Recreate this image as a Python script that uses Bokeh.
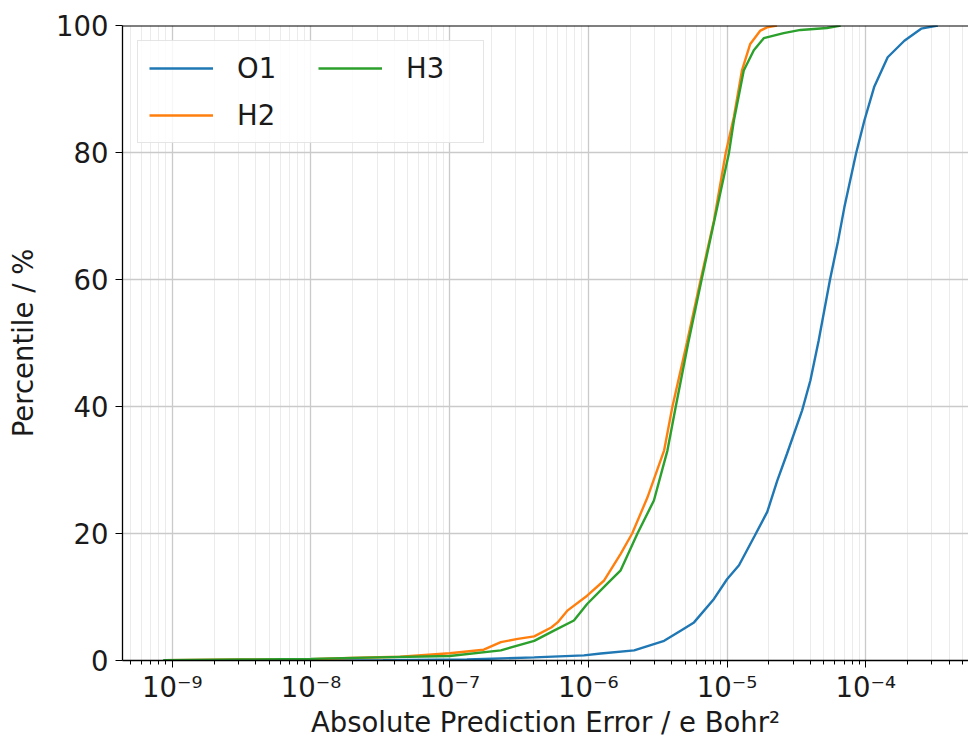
from bokeh.plotting import figure
from bokeh.models import FixedTicker, Legend, LegendItem, Span, Range1d
from bokeh.embed import file_html
from bokeh.resources import INLINE

# ---- data (absolute error, cumulative percentile) ----
O1_err = [5.0e-9, 3.3e-8, 1.33e-7, 4.07e-7, 9.3e-7, 1.23e-6, 2.14e-6, 3.52e-6,
          4.63e-6, 5.78e-6, 8.05e-6, 1.0e-5, 1.22e-5, 1.58e-5, 1.95e-5, 2.30e-5,
          2.71e-5, 3.48e-5, 3.99e-5, 4.58e-5, 5.53e-5, 6.31e-5, 7.02e-5, 8.51e-5,
          9.77e-5, 1.15e-4, 1.44e-4, 1.90e-4, 2.51e-4, 3.31e-4]
O1_pct = [0.0, 0.05, 0.15, 0.5, 0.8, 1.1, 1.6, 3.1,
          4.7, 6.0, 9.7, 12.8, 15.0, 19.6, 23.4, 28.3,
          32.6, 39.4, 44.1, 50.4, 60.0, 66.0, 71.4, 79.8,
          85.0, 90.3, 95.0, 97.6, 99.5, 100.0]

H2_err = [8.9e-10, 3.16e-9, 1.0e-8, 1.9e-8, 4.4e-8, 1.0e-7, 1.76e-7, 2.34e-7,
          3.1e-7, 4.07e-7, 5.4e-7, 6.0e-7, 7.1e-7, 9.8e-7, 1.30e-6, 1.71e-6,
          2.07e-6, 2.67e-6, 3.52e-6, 4.04e-6, 5.13e-6, 6.46e-6, 8.05e-6, 9.8e-6,
          1.12e-5, 1.28e-5, 1.47e-5, 1.74e-5, 1.94e-5, 2.29e-5]
H2_pct = [0.05, 0.15, 0.2, 0.4, 0.6, 1.15, 1.7, 2.9,
          3.4, 3.8, 5.2, 6.0, 7.9, 10.2, 12.6, 16.8,
          20.0, 25.7, 33.1, 40.0, 50.0, 60.0, 69.3, 80.0,
          85.6, 92.9, 97.1, 99.2, 99.7, 100.0]

H3_err = [8.6e-10, 3.16e-9, 1.0e-8, 2.5e-8, 1.0e-7, 2.34e-7, 4.07e-7, 5.65e-7,
          7.87e-7, 9.8e-7, 1.37e-6, 1.71e-6, 2.26e-6, 2.97e-6, 3.72e-6, 4.27e-6,
          5.25e-6, 6.56e-6, 8.05e-6, 1.03e-5, 1.12e-5, 1.32e-5, 1.56e-5, 1.84e-5,
          2.56e-5, 3.39e-5, 5.25e-5, 6.6e-5]
H3_pct = [0.05, 0.15, 0.25, 0.45, 0.7, 1.6, 3.1, 4.7,
          6.3, 8.9, 12.1, 14.2, 20.0, 25.2, 33.1, 40.0,
          50.0, 60.0, 69.0, 79.8, 85.0, 92.9, 96.1, 98.0,
          98.8, 99.3, 99.6, 100.0]

series_names = ["O1", "H2", "H3"]
series_colors = ["#1f77b4", "#ff7f0e", "#2ca02c"]

x_ticks = [1e-9, 1e-8, 1e-7, 1e-6, 1e-5, 1e-4]
x_tick_labels = ["10\u207b\u2079", "10\u207b\u2078", "10\u207b\u2077",
                 "10\u207b\u2076", "10\u207b\u2075", "10\u207b\u2074"]
x_minor = [m * 10.0 ** e for e in range(-10, -3) for m in range(2, 10)]
y_ticks = [0, 20, 40, 60, 80, 100]

FONT = "DejaVu Sans"
TXT = "#1a1a1a"
FS = "27.5px"

p = figure(width=968, height=742, x_axis_type="log",
           x_range=Range1d(4.375e-10, 5.51e-4), y_range=Range1d(0, 100),
           output_backend="svg", toolbar_location=None,
           min_border_left=122, min_border_right=0,
           min_border_top=25, min_border_bottom=82)
p.outline_line_color = None
p.background_fill_color = "white"
p.border_fill_color = "white"

renderers = []
for xs, ys, c in [(O1_err, O1_pct, series_colors[0]),
                  (H2_err, H2_pct, series_colors[1]),
                  (H3_err, H3_pct, series_colors[2])]:
    renderers.append(p.line(xs, ys, line_color=c, line_width=2.4))

# axes
xa = p.xaxis[0]
xa.ticker = FixedTicker(ticks=x_ticks, minor_ticks=x_minor)
xa.major_label_overrides = dict(zip(x_ticks, x_tick_labels))
xa.axis_label = "Absolute Prediction Error / e Bohr\u00b2"
xa.major_tick_out = 7
xa.major_tick_in = 0
xa.minor_tick_out = 4
xa.minor_tick_in = 0
xa.major_label_standoff = 3
xa.axis_label_standoff = 0

ya = p.yaxis[0]
ya.ticker = FixedTicker(ticks=y_ticks)
ya.axis_label = "Percentile / %"
ya.major_tick_out = 7
ya.major_tick_in = 0
ya.major_label_standoff = 7
ya.axis_label_standoff = 14

for ax in (xa, ya):
    ax.axis_line_color = "black"
    ax.axis_line_width = 1.3
    ax.major_tick_line_color = "black"
    ax.minor_tick_line_color = "black" if ax is xa else None
    ax.major_label_text_font = FONT
    ax.major_label_text_font_size = FS
    ax.major_label_text_color = TXT
    ax.axis_label_text_font = FONT
    ax.axis_label_text_font_size = FS
    ax.axis_label_text_font_style = "normal"
    ax.axis_label_text_color = TXT

# grids
p.xgrid.grid_line_color = "#cacaca"
p.xgrid.grid_line_width = 1.3
p.xgrid.minor_grid_line_color = "#ebebeb"
p.xgrid.minor_grid_line_width = 1
p.ygrid.grid_line_color = "#cacaca"
p.ygrid.grid_line_width = 1.3

# top spine
p.add_layout(Span(location=100, dimension="width", line_color="black", line_width=2))

legend = Legend(items=[LegendItem(label=n, renderers=[r]) for n, r in zip(series_names, renderers)],
                location="top_left", orientation="vertical", nrows=2,
                label_text_font=FONT, label_text_font_size=FS, label_text_color=TXT,
                glyph_width=64, glyph_height=28, label_standoff=24, label_width=66,
                spacing=15, padding=11, margin=15,
                border_line_color="#cccccc", border_line_width=1.2,
                background_fill_color="white", background_fill_alpha=0.85)
p.add_layout(legend)

open("out.html", "w").write(file_html(p, INLINE))
